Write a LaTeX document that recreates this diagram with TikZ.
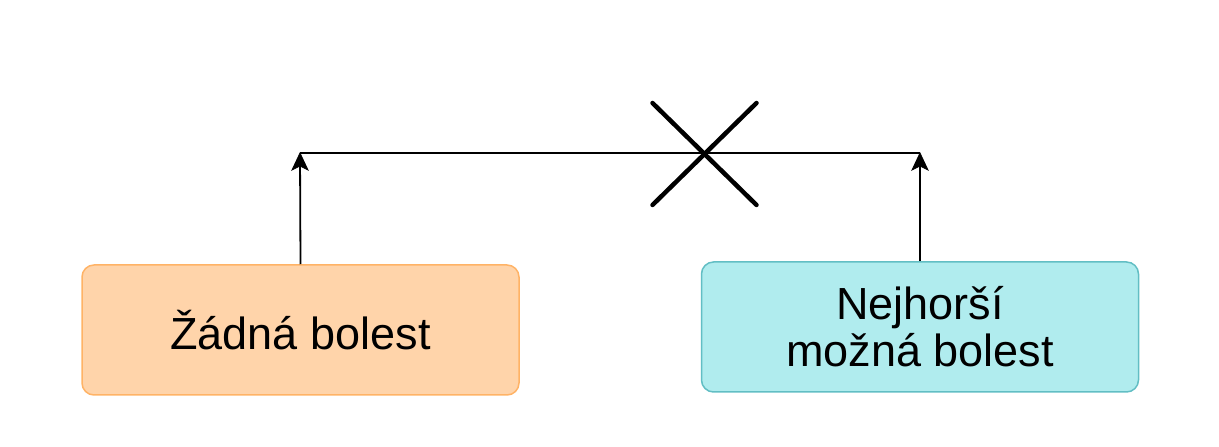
\documentclass[tikz,border=0pt]{standalone}
\usepackage{fontspec}
\setmainfont{Liberation Sans}
\definecolor{orfill}{RGB}{255,212,170}
\definecolor{ordraw}{RGB}{255,179,102}
\definecolor{cyfill}{RGB}{176,236,238}
\definecolor{cydraw}{RGB}{98,190,196}
\tikzset{
  boxstyle/.style={rounded corners=12pt, minimum width=437pt, minimum height=130pt, line width=1.5pt, align=center, inner sep=0pt,
    font=\fontsize{45}{47}\selectfont},
  arrowline/.style={line width=1.8pt, shorten >=10pt},
  tipfill/.style={fill=black, draw=black, line width=0.8pt, line join=miter},
  plainline/.style={line width=1.8pt},
  crossline/.style={line width=4.5pt, line cap=round}}
\begin{document}
\begin{tikzpicture}[x=1pt,y=1pt]
\useasboundingbox (0,0) rectangle (1219,447);
\node[boxstyle, fill=orfill, draw=ordraw] (L) at (300.5,117) {Žádná bolest};
\node[boxstyle, fill=cyfill, draw=cydraw] (R) at (920,120) {Nejhorší\\možná bolest};
\coordinate (tl) at (300,294);
\coordinate (tr) at (920,294);
\coordinate (X) at (704.5,293);
\draw[plainline] (tl) -- (tr);
\draw[arrowline] (L.north) -- (tl);
\draw[arrowline] (R.north) -- (tr);
\fill[tipfill] (tl) -- ++(-8,-17) -- ++(8,4) -- ++(8,-4) -- cycle;
\fill[tipfill] (tr) -- ++(-8,-17) -- ++(8,4) -- ++(8,-4) -- cycle;
\draw[crossline] ([shift={(-52,-51)}]X) -- ([shift={(52,51)}]X);
\draw[crossline] ([shift={(-52,51)}]X) -- ([shift={(52,-51)}]X);
\end{tikzpicture}
\end{document}
